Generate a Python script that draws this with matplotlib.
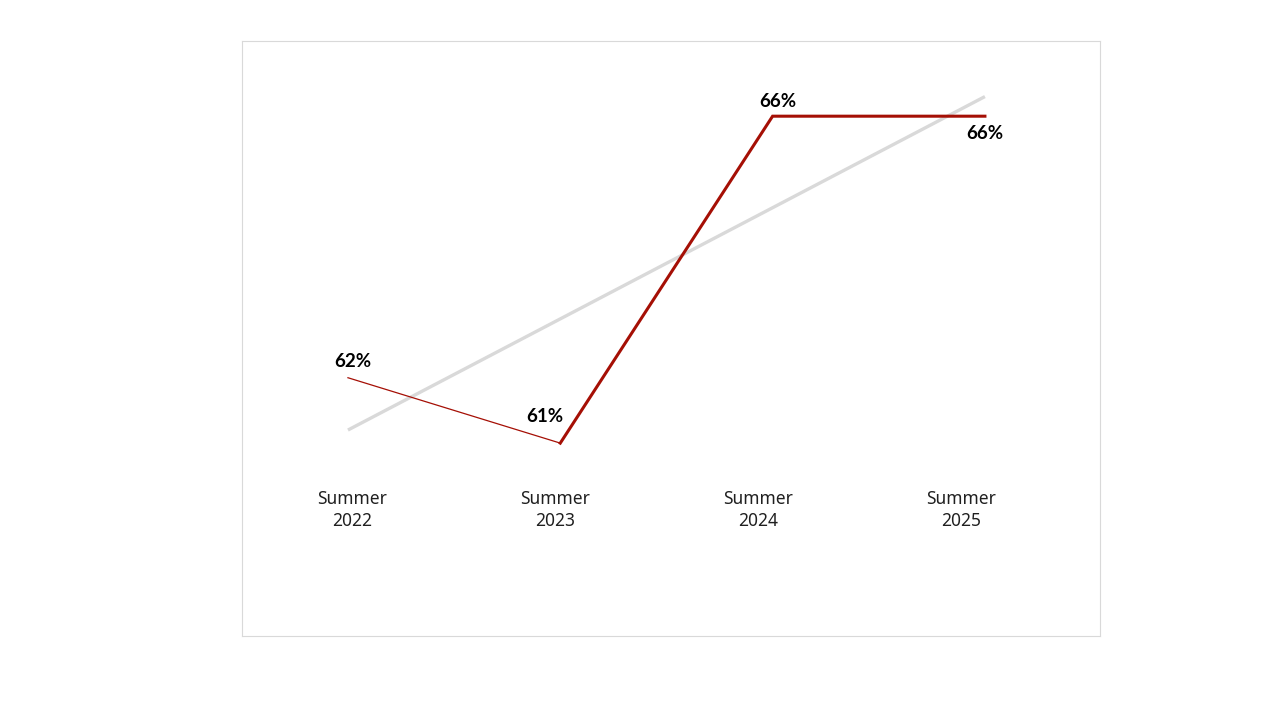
import numpy as np
import matplotlib.pyplot as plt
from matplotlib import transforms

plt.rcParams['font.family'] = ['Noto Sans', 'DejaVu Sans']

#------------------------------------------------------------
# data
seasons = ['Summer\n2022', 'Summer\n2023', 'Summer\n2024', 'Summer\n2025']
values = [62, 61, 66, 66]
value_labels = ['62%', '61%', '66%', '66%']

red = '#a50f05'
grey = '#d9d9d9'

x = np.arange(len(values))
slope, icpt = np.polyfit(x, values, 1)

#------------------------------------------------------------
fig = plt.figure(figsize=(12.8, 7.2), dpi=100)
ax = fig.add_axes([242 / 1280, 1 - 636 / 720, 858 / 1280, 595 / 720])
ax.set_xlim(-0.499, 3.542)
ax.set_ylim(58.05, 67.15)

# linear trend
ax.plot(x[[0, -1]], icpt + slope * x[[0, -1]], color=grey, lw=2.4,
        solid_capstyle='butt', zorder=1)

# first segment is thin, the rest heavy
ax.plot(x[:2], values[:2], color=red, lw=0.9, zorder=2)
ax.plot(x[1:], values[1:], color=red, lw=2.2, zorder=2,
        solid_joinstyle='miter')

offsets = [(5, 16), (-15, 27), (5, 15), (0, -17)]
for xi, v, lab, (dx, dy) in zip(x, values, value_labels, offsets):
    ax.annotate(lab, (xi, v), xytext=(dx * 0.72, dy * 0.72),
                textcoords='offset points', ha='center', va='center',
                fontsize=13.5, fontweight='bold', color='black',
                family=['Lato', 'DejaVu Sans'])

# category labels sit on a slightly different spacing than the points
ax2 = ax.twiny()
ax2.set_xlim(-0.542, 3.685)
ax2.axis('off')
trans = transforms.blended_transform_factory(ax2.transData, ax.transData)
for i, s in enumerate(seasons):
    ax2.text(i, 59.98, s, transform=trans, ha='center', va='center',
             fontsize=12.5, color='#202020', linespacing=1.3)

ax.set_xticks([])
ax.set_yticks([])
for sp in ax.spines.values():
    sp.set_color('#d9d9d9')
    sp.set_linewidth(0.8)

fig.savefig('out.png', dpi=100)
